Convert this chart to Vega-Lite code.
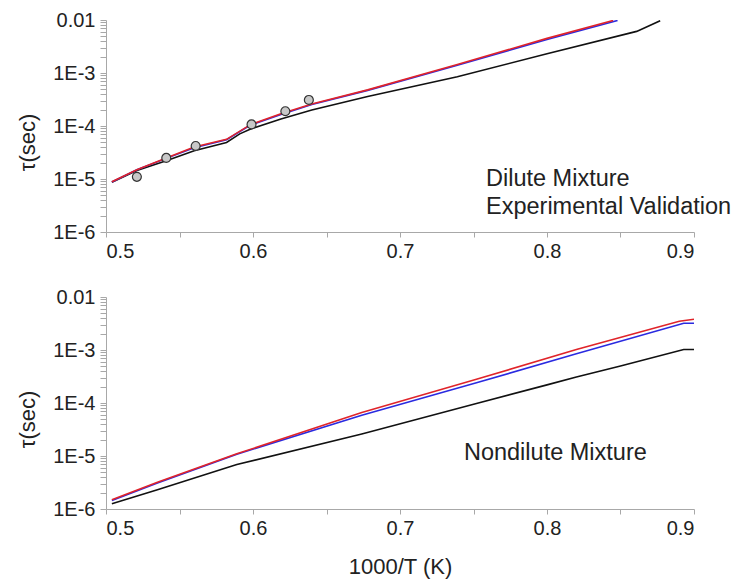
{
  "$schema": "https://vega.github.io/schema/vega-lite/v6.json",
  "background": "white",
  "padding": {"top": 10, "left": 16, "right": 5, "bottom": 5},
  "spacing": 26,
  "config": {
    "view": {"stroke": null},
    "font": "Liberation Sans",
    "axis": {
      "grid": false,
      "domainColor": "#a8a8a8",
      "tickColor": "#a8a8a8",
      "labelFont": "Liberation Sans",
      "labelFontSize": 20,
      "labelColor": "#222222",
      "titleFont": "Liberation Sans",
      "titleFontSize": 22,
      "titleFontWeight": "normal",
      "titleColor": "#222222",
      "labelOverlap": false,
      "labelBound": false
    }
  },
  "datasets": {
    "curves": [
      {"panel": "top", "series": "a_black", "x": 0.504, "tau": 8.7e-6},
      {"panel": "top", "series": "a_black", "x": 0.521, "tau": 1.45e-5},
      {"panel": "top", "series": "a_black", "x": 0.541, "tau": 2.2e-5},
      {"panel": "top", "series": "a_black", "x": 0.560, "tau": 3.4e-5},
      {"panel": "top", "series": "a_black", "x": 0.582, "tau": 4.9e-5},
      {"panel": "top", "series": "a_black", "x": 0.591, "tau": 7.1e-5},
      {"panel": "top", "series": "a_black", "x": 0.598, "tau": 8.7e-5},
      {"panel": "top", "series": "a_black", "x": 0.619, "tau": 1.35e-4},
      {"panel": "top", "series": "a_black", "x": 0.640, "tau": 2.0e-4},
      {"panel": "top", "series": "a_black", "x": 0.678, "tau": 3.6e-4},
      {"panel": "top", "series": "a_black", "x": 0.739, "tau": 8.5e-4},
      {"panel": "top", "series": "a_black", "x": 0.800, "tau": 2.3e-3},
      {"panel": "top", "series": "a_black", "x": 0.861, "tau": 6.1e-3},
      {"panel": "top", "series": "a_black", "x": 0.877, "tau": 9.7e-3},
      {"panel": "top", "series": "b_blue", "x": 0.504, "tau": 8.8e-6},
      {"panel": "top", "series": "b_blue", "x": 0.521, "tau": 1.5e-5},
      {"panel": "top", "series": "b_blue", "x": 0.541, "tau": 2.45e-5},
      {"panel": "top", "series": "b_blue", "x": 0.560, "tau": 3.9e-5},
      {"panel": "top", "series": "b_blue", "x": 0.582, "tau": 5.5e-5},
      {"panel": "top", "series": "b_blue", "x": 0.598, "tau": 1.03e-4},
      {"panel": "top", "series": "b_blue", "x": 0.619, "tau": 1.65e-4},
      {"panel": "top", "series": "b_blue", "x": 0.640, "tau": 2.55e-4},
      {"panel": "top", "series": "b_blue", "x": 0.678, "tau": 4.7e-4},
      {"panel": "top", "series": "b_blue", "x": 0.739, "tau": 1.4e-3},
      {"panel": "top", "series": "b_blue", "x": 0.800, "tau": 4.3e-3},
      {"panel": "top", "series": "b_blue", "x": 0.848, "tau": 9.8e-3},
      {"panel": "top", "series": "c_red", "x": 0.504, "tau": 8.9e-6},
      {"panel": "top", "series": "c_red", "x": 0.521, "tau": 1.5e-5},
      {"panel": "top", "series": "c_red", "x": 0.541, "tau": 2.5e-5},
      {"panel": "top", "series": "c_red", "x": 0.560, "tau": 4.0e-5},
      {"panel": "top", "series": "c_red", "x": 0.582, "tau": 5.6e-5},
      {"panel": "top", "series": "c_red", "x": 0.598, "tau": 1.05e-4},
      {"panel": "top", "series": "c_red", "x": 0.619, "tau": 1.7e-4},
      {"panel": "top", "series": "c_red", "x": 0.640, "tau": 2.6e-4},
      {"panel": "top", "series": "c_red", "x": 0.678, "tau": 4.8e-4},
      {"panel": "top", "series": "c_red", "x": 0.739, "tau": 1.45e-3},
      {"panel": "top", "series": "c_red", "x": 0.800, "tau": 4.5e-3},
      {"panel": "top", "series": "c_red", "x": 0.845, "tau": 9.8e-3},
      {"panel": "bottom", "series": "a_black", "x": 0.504, "tau": 1.26e-6},
      {"panel": "bottom", "series": "a_black", "x": 0.535, "tau": 2.3e-6},
      {"panel": "bottom", "series": "a_black", "x": 0.589, "tau": 6.9e-6},
      {"panel": "bottom", "series": "a_black", "x": 0.674, "tau": 2.6e-5},
      {"panel": "bottom", "series": "a_black", "x": 0.752, "tau": 9.8e-5},
      {"panel": "bottom", "series": "a_black", "x": 0.800, "tau": 2.2e-4},
      {"panel": "bottom", "series": "a_black", "x": 0.820, "tau": 3.1e-4},
      {"panel": "bottom", "series": "a_black", "x": 0.850, "tau": 5.0e-4},
      {"panel": "bottom", "series": "a_black", "x": 0.893, "tau": 1.02e-3},
      {"panel": "bottom", "series": "a_black", "x": 0.900, "tau": 1.02e-3},
      {"panel": "bottom", "series": "b_blue", "x": 0.504, "tau": 1.45e-6},
      {"panel": "bottom", "series": "b_blue", "x": 0.535, "tau": 3.1e-6},
      {"panel": "bottom", "series": "b_blue", "x": 0.589, "tau": 1.08e-5},
      {"panel": "bottom", "series": "b_blue", "x": 0.674, "tau": 5.9e-5},
      {"panel": "bottom", "series": "b_blue", "x": 0.752, "tau": 2.4e-4},
      {"panel": "bottom", "series": "b_blue", "x": 0.820, "tau": 8.5e-4},
      {"panel": "bottom", "series": "b_blue", "x": 0.893, "tau": 3.2e-3},
      {"panel": "bottom", "series": "b_blue", "x": 0.900, "tau": 3.2e-3},
      {"panel": "bottom", "series": "c_red", "x": 0.504, "tau": 1.5e-6},
      {"panel": "bottom", "series": "c_red", "x": 0.535, "tau": 3.2e-6},
      {"panel": "bottom", "series": "c_red", "x": 0.589, "tau": 1.1e-5},
      {"panel": "bottom", "series": "c_red", "x": 0.674, "tau": 6.6e-5},
      {"panel": "bottom", "series": "c_red", "x": 0.752, "tau": 2.8e-4},
      {"panel": "bottom", "series": "c_red", "x": 0.820, "tau": 1.02e-3},
      {"panel": "bottom", "series": "c_red", "x": 0.890, "tau": 3.5e-3},
      {"panel": "bottom", "series": "c_red", "x": 0.900, "tau": 3.8e-3}
    ],
    "points": [
      {"x": 0.521, "tau": 1.1e-5},
      {"x": 0.541, "tau": 2.5e-5},
      {"x": 0.561, "tau": 4.2e-5},
      {"x": 0.599, "tau": 1.07e-4},
      {"x": 0.622, "tau": 1.9e-4},
      {"x": 0.638, "tau": 3.1e-4}
    ],
    "labels": [
      {"panel": "top", "x": 0.7585, "tau": 1.0e-5, "text": "Dilute Mixture"},
      {"panel": "top", "x": 0.7585, "tau": 2.95e-6, "text": "Experimental Validation"},
      {"panel": "bottom", "x": 0.7435, "tau": 1.15e-5, "text": "Nondilute Mixture"}
    ]
  },
  "vconcat": [
    {
      "width": 588,
      "height": 212,
      "layer": [
        {
          "data": {"name": "curves"},
          "transform": [{"filter": "datum.panel == 'top'"}],
          "mark": {"type": "line", "strokeWidth": 1.6, "clip": true},
          "encoding": {
            "x": {"field": "x", "type": "quantitative", "scale": {"domain": [0.5, 0.9], "nice": false},
              "axis": {"title": null, "values": [0.5, 0.55, 0.6, 0.65, 0.7, 0.75, 0.8, 0.85, 0.9], "tickSize": 5, "labelPadding": 4,
                "labelExpr": "abs(datum.value*10 - round(datum.value*10)) < 0.01 ? format(datum.value, '.1f') : ''"}},
            "y": {"field": "tau", "type": "quantitative", "scale": {"type": "log", "domain": [1e-6, 0.01], "nice": false},
              "axis": {"title": "τ(sec)", "titleY": 122, "titlePadding": 13.5, "labelPadding": 5, "tickSize": 6,
                "values": [1e-6,2e-6,3e-6,4e-6,5e-6,6e-6,7e-6,8e-6,9e-6,1e-5,2e-5,3e-5,4e-5,5e-5,6e-5,7e-5,8e-5,9e-5,1e-4,2e-4,3e-4,4e-4,5e-4,6e-4,7e-4,8e-4,9e-4,1e-3,2e-3,3e-3,4e-3,5e-3,6e-3,7e-3,8e-3,9e-3,1e-2],
                "labelExpr": "abs(log(datum.value)/LN10 - round(log(datum.value)/LN10)) < 0.001 ? (datum.value > 0.005 ? '0.01' : '1E' + round(log(datum.value)/LN10)) : ''"}},
            "color": {"field": "series", "type": "nominal", "scale": {"domain": ["a_black", "b_blue", "c_red"], "range": ["#111111", "#2a2ae0", "#e0242a"]}, "legend": null}
          }
        },
        {
          "data": {"name": "points"},
          "mark": {"type": "point", "filled": true, "fill": "#c8c8c8", "stroke": "#333333", "strokeWidth": 1.2, "size": 80, "opacity": 1},
          "encoding": {
            "x": {"field": "x", "type": "quantitative"},
            "y": {"field": "tau", "type": "quantitative"}
          }
        },
        {
          "data": {"name": "labels"},
          "transform": [{"filter": "datum.panel == 'top'"}],
          "mark": {"type": "text", "align": "left", "baseline": "middle", "fontSize": 23.5, "font": "Liberation Sans", "color": "#222222"},
          "encoding": {
            "x": {"field": "x", "type": "quantitative"},
            "y": {"field": "tau", "type": "quantitative"},
            "text": {"field": "text"}
          }
        }
      ]
    },
    {
      "width": 588,
      "height": 212,
      "layer": [
        {
          "data": {"name": "curves"},
          "transform": [{"filter": "datum.panel == 'bottom'"}],
          "mark": {"type": "line", "strokeWidth": 1.6, "clip": true},
          "encoding": {
            "x": {"field": "x", "type": "quantitative", "scale": {"domain": [0.5, 0.9], "nice": false},
              "axis": {"title": "1000/T (K)", "titlePadding": 18, "values": [0.5, 0.55, 0.6, 0.65, 0.7, 0.75, 0.8, 0.85, 0.9], "tickSize": 5, "labelPadding": 4,
                "labelExpr": "abs(datum.value*10 - round(datum.value*10)) < 0.01 ? format(datum.value, '.1f') : ''"}},
            "y": {"field": "tau", "type": "quantitative", "scale": {"type": "log", "domain": [1e-6, 0.01], "nice": false},
              "axis": {"title": "τ(sec)", "titleY": 122, "titlePadding": 13.5, "labelPadding": 5, "tickSize": 6,
                "values": [1e-6,2e-6,3e-6,4e-6,5e-6,6e-6,7e-6,8e-6,9e-6,1e-5,2e-5,3e-5,4e-5,5e-5,6e-5,7e-5,8e-5,9e-5,1e-4,2e-4,3e-4,4e-4,5e-4,6e-4,7e-4,8e-4,9e-4,1e-3,2e-3,3e-3,4e-3,5e-3,6e-3,7e-3,8e-3,9e-3,1e-2],
                "labelExpr": "abs(log(datum.value)/LN10 - round(log(datum.value)/LN10)) < 0.001 ? (datum.value > 0.005 ? '0.01' : '1E' + round(log(datum.value)/LN10)) : ''"}},
            "color": {"field": "series", "type": "nominal", "scale": {"domain": ["a_black", "b_blue", "c_red"], "range": ["#111111", "#2a2ae0", "#e0242a"]}, "legend": null}
          }
        },
        {
          "data": {"name": "labels"},
          "transform": [{"filter": "datum.panel == 'bottom'"}],
          "mark": {"type": "text", "align": "left", "baseline": "middle", "fontSize": 23.5, "font": "Liberation Sans", "color": "#222222"},
          "encoding": {
            "x": {"field": "x", "type": "quantitative"},
            "y": {"field": "tau", "type": "quantitative"},
            "text": {"field": "text"}
          }
        }
      ]
    }
  ]
}
